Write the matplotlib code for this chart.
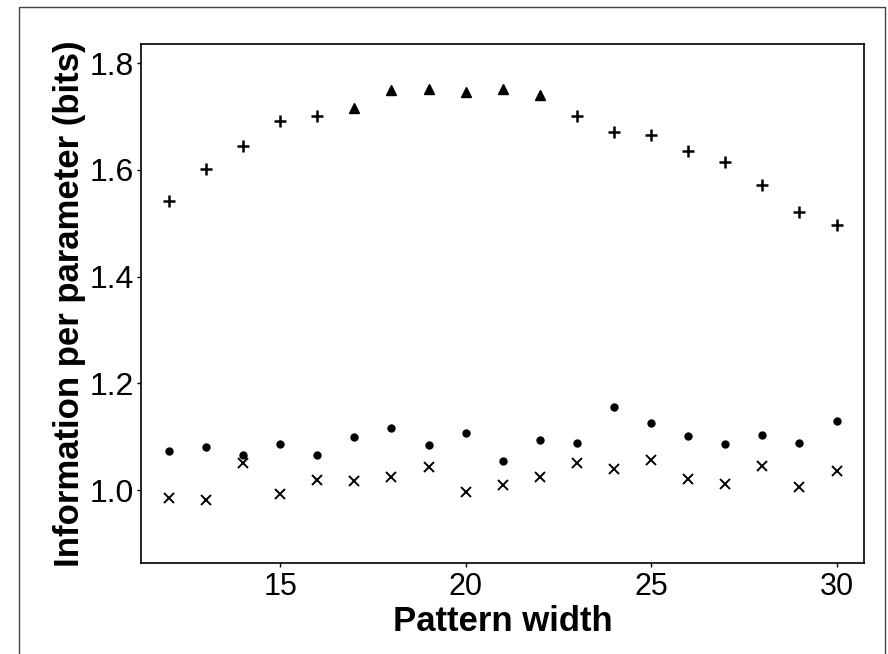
import matplotlib
matplotlib.use("Agg")
import matplotlib.pyplot as plt
from matplotlib.lines import Line2D

plt.rcParams['font.family'] = ['Liberation Sans', 'DejaVu Sans']

# pattern widths
width = [12, 13, 14, 15, 16, 17, 18, 19, 20, 21, 22, 23, 24, 25, 26, 27, 28, 29, 30]

# upper series: plus markers, with triangles where the max is reached
plus_x = [12, 13, 14, 15, 16, 23, 24, 25, 26, 27, 28, 29, 30]
plus_y = [1.541, 1.602, 1.644, 1.691, 1.701,
          1.702, 1.672, 1.666, 1.636, 1.614, 1.572, 1.522, 1.497]
tri_x = [17, 18, 19, 20, 21, 22]
tri_y = [1.716, 1.750, 1.751, 1.747, 1.751, 1.741]

# lower series
dot_y = [1.074, 1.080, 1.066, 1.086, 1.065, 1.100, 1.116, 1.085, 1.107, 1.055,
         1.094, 1.089, 1.155, 1.126, 1.101, 1.086, 1.104, 1.088, 1.130]
cross_y = [0.985, 0.981, 1.051, 0.993, 1.019, 1.018, 1.025, 1.044, 0.997, 1.010,
           1.025, 1.051, 1.040, 1.056, 1.021, 1.011, 1.046, 1.006, 1.036]

fig = plt.figure(figsize=(8.88, 6.54), dpi=100)
ax = fig.add_axes([0.1588, 0.1396, 0.973 - 0.1588, 0.9327 - 0.1396])

ax.plot(plus_x, plus_y, '+', color='black', ms=8, mew=1.8, ls='none')
ax.plot(tri_x, tri_y, '^', color='black', ms=6.5, ls='none')
ax.plot(width, dot_y, 'o', color='black', ms=5, ls='none')
ax.plot(width, cross_y, 'x', color='black', ms=6.5, mew=1.4, ls='none')

ax.set_xlim(11.25, 30.74)
ax.set_ylim(0.864, 1.836)
ax.set_xticks([15, 20, 25, 30])
ax.set_xticklabels(['15', '20', '25', '30'])
ax.set_yticks([1.0, 1.2, 1.4, 1.6, 1.8])
ax.set_yticklabels(['1.0', '1.2', '1.4', '1.6', '1.8'])

ax.tick_params(axis='x', direction='out', length=3, width=1, pad=4, labelsize=22)
ax.tick_params(axis='y', direction='out', length=3, width=1, pad=2, labelsize=23)
for s in ax.spines.values():
    s.set_linewidth(1.2)

ax.set_xlabel('Pattern width', fontsize=25, fontweight='bold', labelpad=2)
ax.set_ylabel('Information per parameter (bits)', fontsize=25, fontweight='bold', labelpad=3)

# outer frame of the scanned figure (open at the bottom)
fig.add_artist(Line2D([19 / 888, 19 / 888, 885 / 888, 885 / 888],
                      [0, 1 - 7 / 654, 1 - 7 / 654, 0],
                      transform=fig.transFigure, color='#444444', lw=1))

fig.savefig('out.png', dpi=100)
